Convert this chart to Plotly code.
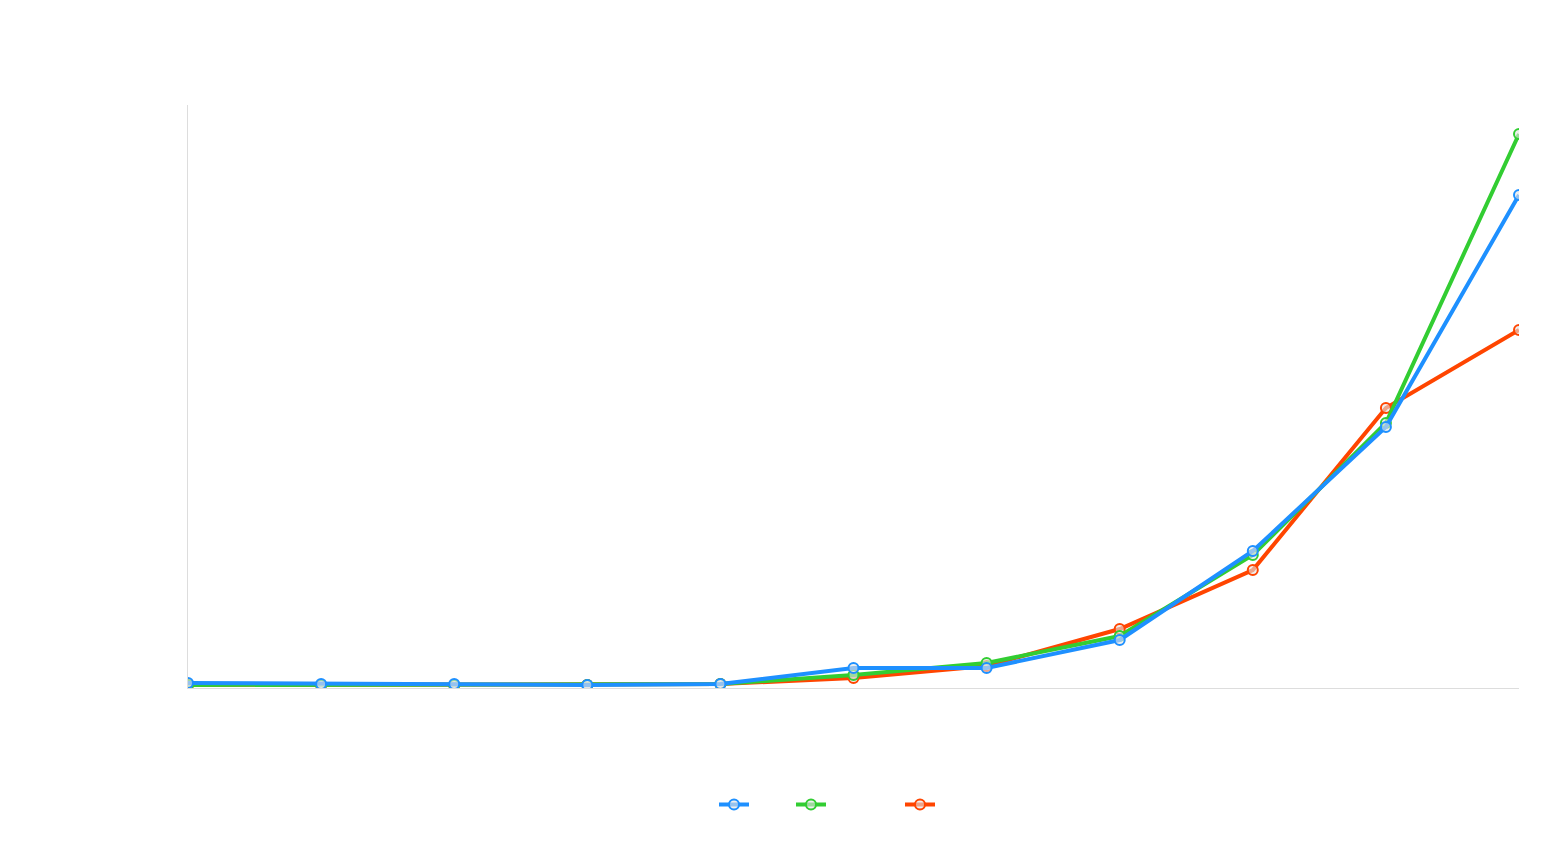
import plotly.graph_objects as go

x = list(range(11))
blue = [5, 4, 4, 3, 4, 20, 20, 48, 137, 261, 493]
green = [3, 3, 3, 3, 4, 13, 25, 52, 133, 265, 554]
orange = [3, 3, 3, 3, 4, 10, 22, 59, 118, 280, 358]
series = [("\u2003\u2003\u2003", orange, "#ff4500"), ("\u2003\u2003\u2003\u2003", green, "#32cd32"), ("\u2003\u2003", blue, "#1e90ff")]

fig = go.Figure()
for name, ys, c in series:
    fig.add_trace(go.Scatter(x=x, y=ys, mode="lines+markers", name=name,
                             line=dict(color=c, width=4),
                             marker=dict(size=10, color="rgba(229,229,229,0.6)", line=dict(color=c, width=2))))
fig.update_layout(
    width=1564, height=850, plot_bgcolor="white", paper_bgcolor="white",
    margin=dict(l=180, r=53, t=97, b=170),
    xaxis=dict(range=[0, 10], showgrid=False, showticklabels=False, zeroline=False,
               showline=True, linecolor="#dddddd", linewidth=1),
    yaxis=dict(range=[0, 583], showgrid=False, showticklabels=False, zeroline=False,
               showline=True, linecolor="#dddddd", linewidth=1),
    legend=dict(orientation="h", x=0.5, xanchor="center", y=-0.2, yanchor="middle",
                traceorder="reversed", font=dict(size=16)),
)
fig.write_html("out.html")
